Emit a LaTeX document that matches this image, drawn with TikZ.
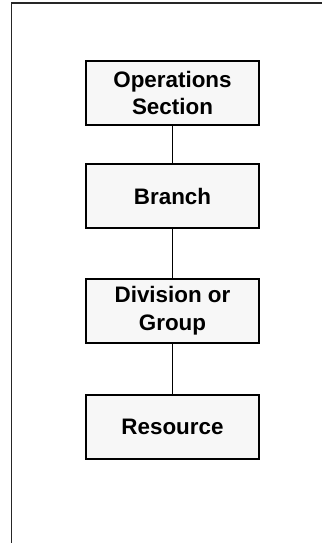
\documentclass[tikz,border=0pt]{standalone}
\usepackage{fontspec}
\setmainfont{Liberation Sans}
\begin{document}
\begin{tikzpicture}[x=1pt,y=-1pt,
  orgbox/.style={draw=black, line width=2pt, fill=black!3, minimum width=173pt, minimum height=64pt,
    inner sep=0pt, align=center, font=\fontsize{22.4}{27.7}\selectfont\bfseries},
  link/.style={draw=black, line width=0.9pt}]
\useasboundingbox (0,0) rectangle (322,543);
\draw[line width=1.6pt, black!85] (11.5,543) -- (11.5,3) -- (322,3);
\node[orgbox] (ops) at (172.5,93) {Operations\\Section};
\node[orgbox] (branch) at (172.5,196) {Branch};
\node[orgbox] (div) at (172.5,311) {Division or\\Group};
\node[orgbox] (res) at (172.5,427) {Resource};
\draw[link] (ops) -- (branch);
\draw[link] (branch) -- (div);
\draw[link] (div) -- (res);
\end{tikzpicture}
\end{document}
